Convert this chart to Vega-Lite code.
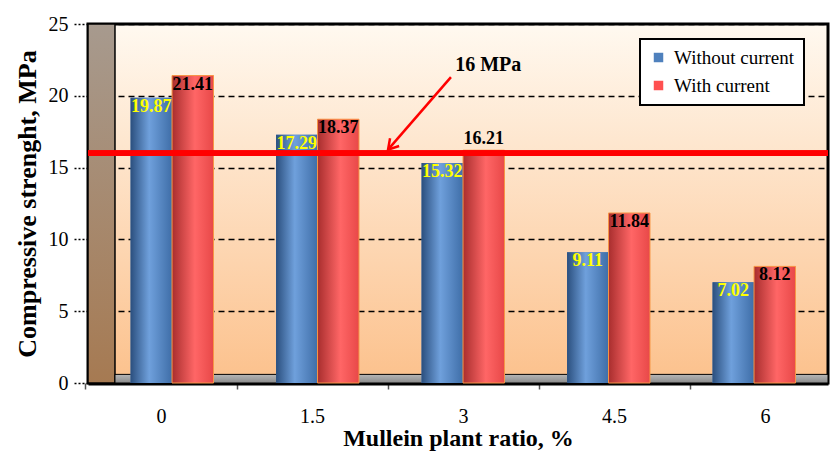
{
  "$schema": "https://vega.github.io/schema/vega-lite/v6.json",
  "width": 740,
  "height": 359,
  "autosize": {"type": "none"},
  "padding": {"left": 88, "top": 24, "right": 3, "bottom": 70},
  "background": "white",
  "config": {
    "font": "Liberation Serif",
    "text": {"font": "Liberation Serif"},
    "axis": {"labelFont": "Liberation Serif", "titleFont": "Liberation Serif"},
    "view": {
      "stroke": "black",
      "strokeWidth": 3,
      "fill": {
        "gradient": "linear", "x1": 0, "y1": 0, "x2": 0, "y2": 1,
        "stops": [
          {"offset": 0, "color": "#FFF9F0"},
          {"offset": 1, "color": "#FCC18C"}
        ]
      }
    },
    "legend": {
      "orient": "none",
      "legendX": 552,
      "legendY": 15,
      "fillColor": "white",
      "strokeColor": "black",
      "strokeWidth": 2,
      "padding": 9,
      "labelFont": "Liberation Serif",
      "labelFontSize": 19,
      "labelColor": "black",
      "labelOffset": 6,
      "symbolType": "square",
      "symbolSize": 90,
      "rowPadding": 8,
      "title": null
    }
  },
  "datasets": {
    "bars": [
      {"ratio": "0", "series": "Without current", "value": 19.87},
      {"ratio": "0", "series": "With current", "value": 21.41},
      {"ratio": "1.5", "series": "Without current", "value": 17.29},
      {"ratio": "1.5", "series": "With current", "value": 18.37},
      {"ratio": "3", "series": "Without current", "value": 15.32},
      {"ratio": "3", "series": "With current", "value": 16.21},
      {"ratio": "4.5", "series": "Without current", "value": 9.11},
      {"ratio": "4.5", "series": "With current", "value": 11.84},
      {"ratio": "6", "series": "Without current", "value": 7.02},
      {"ratio": "6", "series": "With current", "value": 8.12}
    ],
    "note": [
      {"x1": 2.88, "y1": 21.3, "x2": 2.255, "y2": 16.25, "label": "16 MPa", "tx": 3.25, "ty": 22.15}
    ]
  },
  "resolve": {"scale": {"x": "independent", "y": "shared"}},
  "layer": [
    {
      "data": {"values": [{}]},
      "layer": [
        {
          "mark": {
            "type": "rect",
            "fill": {
              "gradient": "linear", "x1": 0, "y1": 0, "x2": 0, "y2": 1,
              "stops": [
                {"offset": 0, "color": "#A79A8E"},
                {"offset": 1, "color": "#A67A52"}
              ]
            },
            "stroke": "black",
            "strokeWidth": 1.5
          },
          "encoding": {
            "x": {
              "datum": -0.725, "type": "quantitative",
              "scale": {"domain": [-0.725, 6.625], "nice": false, "zero": false},
              "axis": {
                "values": [0, 1.5, 3, 4.5, 6],
                "labelExpr": "datum.value + ''",
                "title": "Mullein plant ratio, %",
                "titleFont": "Liberation Serif",
                "titleFontSize": 24, "titleFontWeight": "bold", "titleColor": "black", "titlePadding": 0,
                "labelFont": "Liberation Serif",
                "labelAngle": 0, "labelFontSize": 20, "labelColor": "black", "labelPadding": 17,
                "labelFlush": false, "labelOverlap": false,
                "grid": false,
                "tickOffset": -75.5, "labelOffset": 75.5,
                "tickColor": "#555555", "tickSize": 6, "tickWidth": 1.5,
                "domainColor": "black", "domainWidth": 4
              }
            },
            "x2": {"datum": -0.457},
            "y": {"datum": 0},
            "y2": {"datum": 25}
          }
        },
        {
          "mark": {
            "type": "rect",
            "fill": {
              "gradient": "linear", "x1": 0, "y1": 0, "x2": 0, "y2": 1,
              "stops": [
                {"offset": 0, "color": "#B8B8B8"},
                {"offset": 1, "color": "#8A8A8A"}
              ]
            },
            "stroke": "black",
            "strokeWidth": 1
          },
          "encoding": {
            "x": {"datum": -0.457, "type": "quantitative"},
            "x2": {"datum": 6.625},
            "y": {"datum": 0},
            "y2": {"datum": 0.6}
          }
        }
      ]
    },
    {
      "data": {"name": "bars"},
      "encoding": {
        "x": {
          "field": "ratio", "type": "nominal",
          "sort": ["0", "1.5", "3", "4.5", "6"],
          "scale": {"paddingInner": 0.43, "paddingOuter": 0.258, "align": 0.567},
          "axis": null
        },
        "xOffset": {
          "field": "series", "type": "nominal",
          "sort": ["Without current", "With current"],
          "scale": {"paddingInner": 0, "paddingOuter": 0}
        },
        "y": {
          "field": "value", "type": "quantitative",
          "scale": {"domain": [0, 25], "nice": false},
          "axis": {
            "title": "Compressive strenght, MPa",
            "titleFont": "Liberation Serif",
            "titleFontSize": 26, "titleFontWeight": "bold", "titleColor": "black", "titlePadding": 8,
            "values": [0, 5, 10, 15, 20, 25],
            "labelFont": "Liberation Serif",
            "labelFontSize": 20, "labelColor": "black", "labelPadding": 4,
            "ticks": true, "tickSize": 16, "tickDash": [2, 2], "tickColor": "black", "tickWidth": 1.5,
            "domain": false,
            "grid": true, "gridColor": "black", "gridDash": [6, 4], "gridWidth": 1.5
          }
        }
      },
      "layer": [
        {
          "mark": {"type": "bar"},
          "encoding": {
            "color": {
              "field": "series", "type": "nominal",
              "sort": ["Without current", "With current"],
              "scale": {"domain": ["Without current", "With current"], "range": ["#4F81BD", "#FF5050"]}
            }
          }
        },
        {
          "transform": [{"filter": "datum.series === 'Without current'"}],
          "mark": {
            "type": "bar",
            "fill": {
              "gradient": "linear", "x1": 0, "y1": 0, "x2": 1, "y2": 0,
              "stops": [
                {"offset": 0, "color": "#2B4F7E"},
                {"offset": 0.45, "color": "#6FA0DC"},
                {"offset": 1, "color": "#3F6EA8"}
              ]
            }
          }
        },
        {
          "transform": [{"filter": "datum.series === 'With current'"}],
          "mark": {
            "type": "bar",
            "stroke": "#F79646",
            "strokeWidth": 1,
            "fill": {
              "gradient": "linear", "x1": 0, "y1": 0, "x2": 1, "y2": 0,
              "stops": [
                {"offset": 0, "color": "#A82E2E"},
                {"offset": 0.55, "color": "#FF6666"},
                {"offset": 1, "color": "#E84848"}
              ]
            }
          }
        },
        {
          "mark": {"type": "rule", "color": "#FF0000", "strokeWidth": 5},
          "encoding": {
            "x": null, "xOffset": null,
            "y": {"datum": 16}
          }
        },
        {
          "transform": [{"filter": "!(datum.ratio === '3' && datum.series === 'With current')"}],
          "mark": {"type": "text", "font": "Liberation Serif", "baseline": "middle", "dy": 9, "fontSize": 18, "fontWeight": "bold"},
          "encoding": {
            "text": {"field": "value", "type": "quantitative", "format": ".2f"},
            "color": {
              "condition": {"test": "datum.series === 'Without current'", "value": "#FFFF00"},
              "value": "black"
            }
          }
        },
        {
          "transform": [{"filter": "datum.ratio === '3' && datum.series === 'With current'"}],
          "mark": {"type": "text", "font": "Liberation Serif", "baseline": "bottom", "dy": -2, "fontSize": 18, "fontWeight": "bold", "color": "black"},
          "encoding": {
            "text": {"field": "value", "type": "quantitative", "format": ".2f"}
          }
        }
      ]
    },
    {
      "data": {"name": "note"},
      "layer": [
        {
          "mark": {"type": "rule", "color": "#FF0000", "strokeWidth": 2.5},
          "encoding": {
            "x": {"field": "x1", "type": "quantitative", "scale": {"domain": [-0.725, 6.625], "nice": false, "zero": false}, "axis": null},
            "y": {"field": "y1", "type": "quantitative"},
            "x2": {"field": "x2"},
            "y2": {"field": "y2"}
          }
        },
        {
          "mark": {"type": "point", "shape": "M-0.6,1L0,0L0.6,1", "filled": false, "stroke": "#FF0000", "strokeWidth": 2.5, "size": 400, "angle": 221, "opacity": 1},
          "encoding": {
            "x": {"field": "x2", "type": "quantitative", "scale": {"domain": [-0.725, 6.625], "nice": false, "zero": false}, "axis": null},
            "y": {"field": "y2", "type": "quantitative"}
          }
        },
        {
          "mark": {"type": "text", "font": "Liberation Serif", "fontSize": 20, "fontWeight": "bold", "color": "black"},
          "encoding": {
            "x": {"field": "tx", "type": "quantitative", "scale": {"domain": [-0.725, 6.625], "nice": false, "zero": false}, "axis": null},
            "y": {"field": "ty", "type": "quantitative"},
            "text": {"field": "label"}
          }
        }
      ]
    }
  ]
}
